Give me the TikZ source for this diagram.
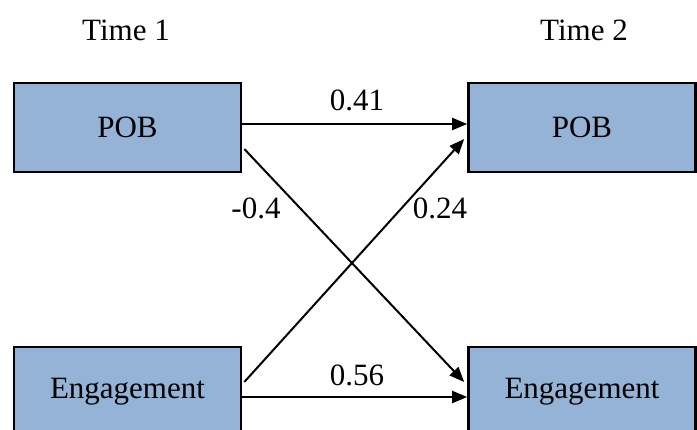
\documentclass[tikz,border=0pt]{standalone}
\usepackage{fontspec}
\setmainfont{Liberation Serif}
\usetikzlibrary{arrows.meta,calc}
\definecolor{boxblue}{HTML}{95B3D7}
\begin{document}
\begin{tikzpicture}[x=1pt,y=-1pt,
  font=\fontsize{31}{36}\selectfont,
  varbox/.style={draw=black,line width=2.6pt,fill=boxblue,
    minimum width=227pt,minimum height=89pt,inner sep=0pt},
  path/.style={line width=2pt,-{Triangle[length=15pt,width=12pt]}},
  lbl/.style={inner sep=0pt}]
  \clip (0,0) rectangle (697,430);
  \useasboundingbox (0,0) rectangle (697,430);

  % column headings
  \node[lbl] (t1) at (126,30) {Time 1};
  \node[lbl] (t2) at (584,30) {Time 2};

  % variables at both waves
  \node[varbox] (pob1) at (127.5,127.5) {POB};
  \node[varbox] (pob2) at (582,127.5) {POB};
  \node[varbox] (eng1) at (127.5,391.5) {Engagement};
  \node[varbox] (eng2) at (582,391.5) {Engagement};

  % autoregressive and cross-lagged paths
  \draw[path] ([yshift=3.5pt]pob1.east) -- ([yshift=3.5pt]pob2.west);
  \draw[path] ([yshift=-5.5pt]eng1.east) -- ([yshift=-5.5pt]eng2.west);
  \draw[path] ([xshift=2pt,yshift=-21.5pt]pob1.east) -- ([xshift=-3pt,yshift=9.5pt]eng2.west);
  \draw[path] ([xshift=2pt,yshift=9.5pt]eng1.east) -- ([xshift=-3pt,yshift=-11.5pt]pob2.west);

  % path coefficients
  \node[lbl] (c1) at (357,100) {0.41};
  \node[lbl] (c2) at (357,375) {0.56};
  \node[lbl] (c3) at (256,208) {-0.4};
  \node[lbl] (c4) at (440,208) {0.24};
\end{tikzpicture}
\end{document}
